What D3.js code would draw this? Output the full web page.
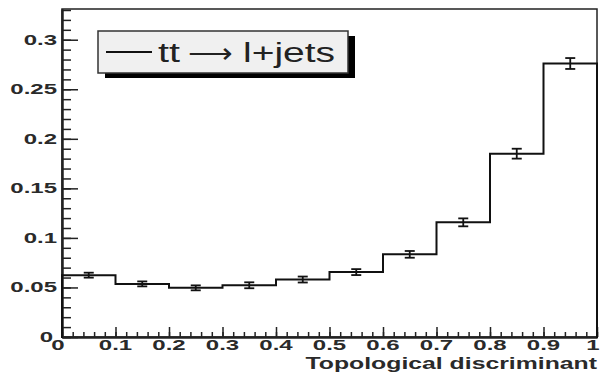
<script src="https://d3js.org/d3.v7.min.js"></script>
<style>
body { margin: 0; background: #fff; }
text { font-family: "Liberation Sans", Arial, sans-serif; }
</style>
<body>
</body>
<script>
// histogram: 10 bins over the discriminant
var binEdges = [0, 0.1, 0.2, 0.3, 0.4, 0.5, 0.6, 0.7, 0.8, 0.9, 1.0];
var binValues = [0.0624, 0.0536, 0.0496, 0.0522, 0.058, 0.0655, 0.0834, 0.1157, 0.185, 0.276];
var binErrors = [0.0025, 0.0025, 0.0025, 0.003, 0.003, 0.003, 0.0034, 0.004, 0.005, 0.0055];

var xMajor = [0, 0.1, 0.2, 0.3, 0.4, 0.5, 0.6, 0.7, 0.8, 0.9, 1];
var xLabels = ["0", "0.1", "0.2", "0.3", "0.4", "0.5", "0.6", "0.7", "0.8", "0.9", "1"];
var yMajor = [0, 0.05, 0.1, 0.15, 0.2, 0.25, 0.3];
var yLabels = ["0", "0.05", "0.1", "0.15", "0.2", "0.25", "0.3"];
var legendParts = ["tt", "\u27F6", "l+jets"];   // tt → l+jets
var xTitle = "Topological discriminant";

const W = 600, H = 373;
const padL = 62, padR = 597, padT = 9, padB = 337;

const svg = d3.select("body").append("svg")
  .attr("width", W).attr("height", H);

var x = d3.scaleLinear().domain([0, 1]).range([padL, padR]);
var y = d3.scaleLinear().domain([0, 0.331]).range([padB, padT]);

// minor ticks every 0.02 on x, 0.01 on y
var xMinor = d3.range(0, 1.0001, 0.02);
var yMinor = d3.range(0, 0.3301, 0.01);

// frame
svg.append("rect")
  .attr("x", padL).attr("y", padT)
  .attr("width", padR - padL).attr("height", padB - padT)
  .attr("fill", "none").attr("stroke", "#222").attr("stroke-width", 1.5);

// axes (ticks inside, labels drawn separately)
function tickAxis(ax) {
  return function(g) {
    g.call(ax);
    g.select(".domain").attr("stroke", "#222").attr("stroke-width", 2);
    g.selectAll(".tick line").attr("stroke", "#222").attr("stroke-width", 1.5);
    g.selectAll(".tick text").remove();
  };
}
svg.append("g").attr("transform", "translate(0," + padB + ")")
  .call(tickAxis(d3.axisBottom(x).tickValues(xMinor).tickSize(-5).tickSizeOuter(0)));
svg.append("g").attr("transform", "translate(0," + padB + ")")
  .call(tickAxis(d3.axisBottom(x).tickValues(xMajor).tickSize(-10).tickSizeOuter(0)));
svg.append("g").attr("transform", "translate(" + padL + ",0)")
  .call(tickAxis(d3.axisLeft(y).tickValues(yMinor).tickSize(-9).tickSizeOuter(0)));
svg.append("g").attr("transform", "translate(" + padL + ",0)")
  .call(tickAxis(d3.axisLeft(y).tickValues(yMajor).tickSize(-16).tickSizeOuter(0)));

// tick labels (stretched wide like the original)
svg.append("g").selectAll("text").data(xMajor).enter().append("text")
  .attr("transform", function(d) {
    var shift = d === 0 ? -4 : (d === 1 ? -4 : 0);
    return "translate(" + (x(d) + shift) + ",350) scale(1.6,1)";
  })
  .attr("text-anchor", "middle")
  .attr("font-size", 15).attr("font-weight", "bold").attr("fill", "#2a2a2a")
  .text(function(d, i) { return xLabels[i]; });

svg.append("g").selectAll("text").data(yMajor).enter().append("text")
  .attr("transform", function(d) { return "translate(" + (d === 0 ? 53 : 57) + "," + (y(d) + 5) + ") scale(1.6,1)"; })
  .attr("text-anchor", "end")
  .attr("font-size", 15).attr("font-weight", "bold").attr("fill", "#2a2a2a")
  .text(function(d, i) { return yLabels[i]; });

svg.append("text")
  .attr("transform", "translate(" + padR + ",369) scale(1.55,1)")
  .attr("text-anchor", "end")
  .attr("font-size", 16).attr("font-weight", "bold").attr("fill", "#2a2a2a")
  .text(xTitle);

// step histogram
var pts = [[binEdges[0], 0]];
binValues.forEach(function(v, i) {
  pts.push([binEdges[i], v]);
  pts.push([binEdges[i + 1], v]);
});
pts.push([binEdges[binEdges.length - 1], 0]);
svg.append("path")
  .attr("d", d3.line().x(function(d) { return x(d[0]); }).y(function(d) { return y(d[1]); })(pts))
  .attr("fill", "none").attr("stroke", "#111").attr("stroke-width", 2)
  .attr("stroke-linecap", "square");

// error bars
var eb = svg.append("g").attr("stroke", "#111").attr("stroke-width", 1.8);
binValues.forEach(function(v, i) {
  var cx = x((binEdges[i] + binEdges[i + 1]) / 2);
  var e = binErrors[i];
  eb.append("line").attr("x1", cx).attr("x2", cx).attr("y1", y(v - e)).attr("y2", y(v + e));
  eb.append("line").attr("x1", cx - 5).attr("x2", cx + 5).attr("y1", y(v - e)).attr("y2", y(v - e));
  eb.append("line").attr("x1", cx - 5).attr("x2", cx + 5).attr("y1", y(v + e)).attr("y2", y(v + e));
});

// legend box with shadow
svg.append("rect").attr("x", 105).attr("y", 36).attr("width", 250).attr("height", 42).attr("fill", "#000");
svg.append("rect").attr("x", 98).attr("y", 31).attr("width", 250).attr("height", 42)
  .attr("fill", "#f0f0f0").attr("stroke", "#333").attr("stroke-width", 1.5);
svg.append("line").attr("x1", 106).attr("x2", 152).attr("y1", 52).attr("y2", 52)
  .attr("stroke", "#111").attr("stroke-width", 1.8);
var legendX = [158, 188, 243], legendLen = [22, 45, 92];
svg.append("g").selectAll("text").data(legendParts).enter().append("text")
  .attr("x", function(d, i) { return legendX[i]; }).attr("y", 62)
  .attr("font-size", 27).attr("fill", "#222")
  .attr("font-family", function(d, i) { return i === 1 ? "DejaVu Sans" : null; })
  .attr("textLength", function(d, i) { return legendLen[i]; })
  .attr("lengthAdjust", "spacingAndGlyphs")
  .text(function(d) { return d; });
</script>
